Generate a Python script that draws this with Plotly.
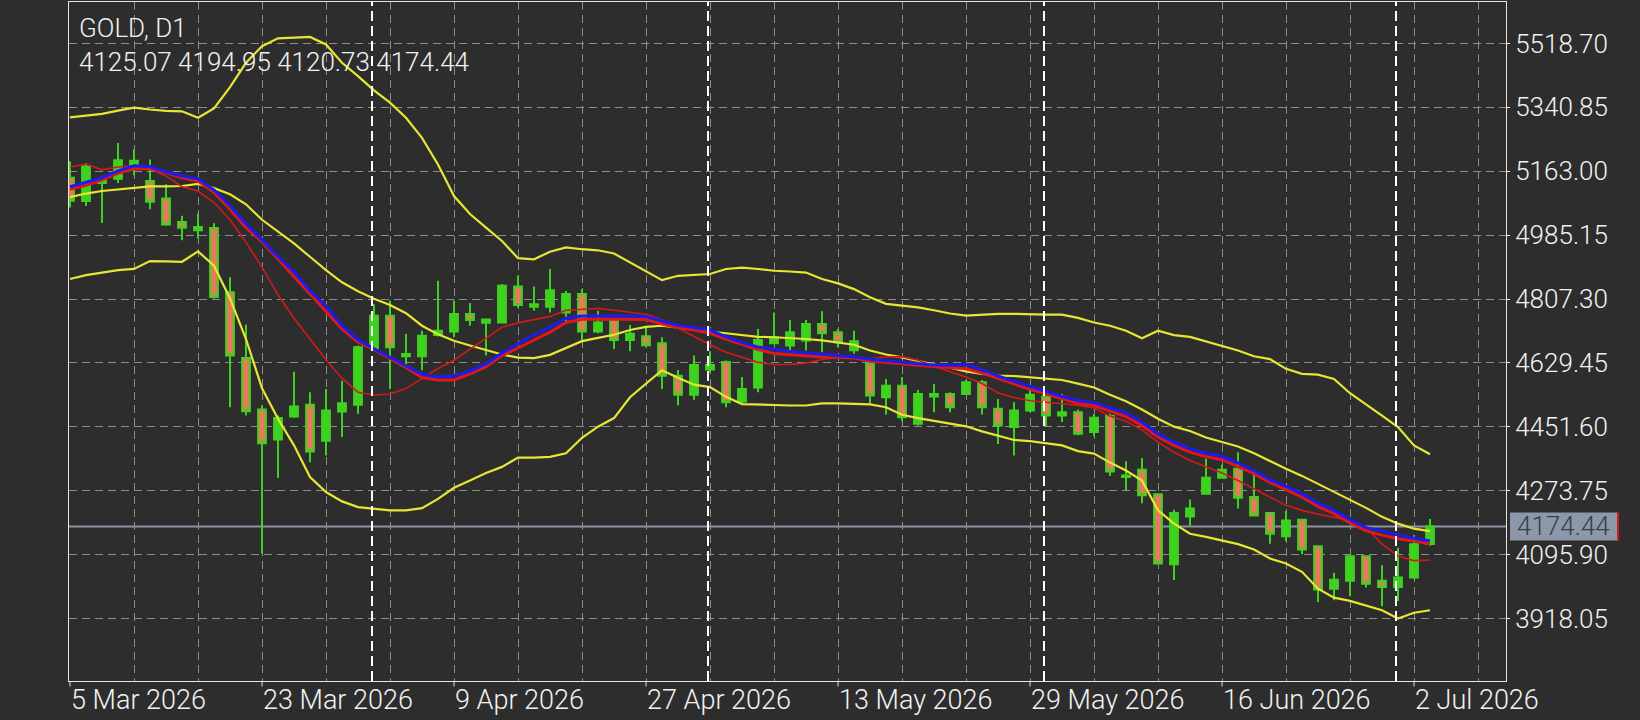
import plotly.graph_objects as go

# ---------------- data ----------------
dates = [
    "2026-03-05", "2026-03-06", "2026-03-09", "2026-03-10", "2026-03-11", "2026-03-12", "2026-03-13",
    "2026-03-16", "2026-03-17", "2026-03-18", "2026-03-19", "2026-03-20", "2026-03-23", "2026-03-24",
    "2026-03-25", "2026-03-26", "2026-03-27", "2026-03-30", "2026-03-31",
    "2026-04-01", "2026-04-02", "2026-04-06", "2026-04-07", "2026-04-08", "2026-04-09", "2026-04-10",
    "2026-04-13", "2026-04-14", "2026-04-15", "2026-04-16", "2026-04-17", "2026-04-20", "2026-04-21",
    "2026-04-22", "2026-04-23", "2026-04-24", "2026-04-27", "2026-04-28", "2026-04-29", "2026-04-30",
    "2026-05-01", "2026-05-04", "2026-05-05", "2026-05-06", "2026-05-07", "2026-05-08", "2026-05-11",
    "2026-05-12", "2026-05-13", "2026-05-14", "2026-05-15", "2026-05-18", "2026-05-19", "2026-05-20",
    "2026-05-21", "2026-05-22", "2026-05-25", "2026-05-26", "2026-05-27", "2026-05-28", "2026-05-29",
    "2026-06-01", "2026-06-02", "2026-06-03", "2026-06-04", "2026-06-05", "2026-06-08", "2026-06-09",
    "2026-06-10", "2026-06-11", "2026-06-12", "2026-06-15", "2026-06-16", "2026-06-17", "2026-06-18",
    "2026-06-19", "2026-06-22", "2026-06-23", "2026-06-24", "2026-06-25", "2026-06-26", "2026-06-29",
    "2026-06-30", "2026-07-01", "2026-07-02", "2026-07-03",
]

opens = [5145, 5080, 5130, 5142, 5180, 5136, 5087, 5022, 4999, 5005,
         4826, 4643, 4500, 4416, 4480, 4513, 4413, 4494, 4513, 4670,
         4761, 4648, 4648, 4707, 4717, 4766, 4741, 4742, 4842, 4786,
         4786, 4770, 4821, 4717, 4749, 4693, 4704, 4684, 4594, 4541,
         4611, 4632, 4522, 4561, 4684, 4678, 4692, 4738, 4715, 4665,
         4627, 4534, 4566, 4460, 4536, 4543, 4543, 4576, 4502, 4451,
         4497, 4536, 4483, 4492, 4437, 4482, 4312, 4332, 4264, 4069,
         4202, 4265, 4310, 4335, 4256, 4212, 4147, 4193, 4119, 4001,
         4023, 4091, 4023, 4006, 4032, 4125.07]
highs = [5191, 5185, 5150, 5242, 5224, 5196, 5127, 5039, 5046, 5018,
         4868, 4736, 4511, 4483, 4605, 4548, 4557, 4580, 4678, 4793,
         4803, 4710, 4719, 4858, 4803, 4796, 4752, 4849, 4872, 4842,
         4891, 4830, 4835, 4775, 4751, 4735, 4727, 4701, 4610, 4650,
         4662, 4636, 4590, 4724, 4770, 4749, 4749, 4773, 4724, 4719,
         4631, 4585, 4590, 4554, 4571, 4548, 4582, 4582, 4529, 4520,
         4560, 4539, 4543, 4499, 4488, 4488, 4356, 4365, 4265, 4221,
         4249, 4363, 4347, 4381, 4332, 4214, 4217, 4196, 4122, 4045,
         4094, 4093, 4066, 4115, 4150, 4194.95]
lows = [5062, 5066, 5019, 5130, 5152, 5057, 5011, 4971, 4976, 4809,
        4506, 4483, 4099, 4309, 4476, 4353, 4372, 4423, 4488, 4668,
        4557, 4622, 4609, 4703, 4701, 4733, 4650, 4740, 4784, 4775,
        4770, 4742, 4687, 4712, 4668, 4662, 4673, 4557, 4511, 4527,
        4603, 4506, 4515, 4548, 4682, 4664, 4664, 4659, 4673, 4655,
        4516, 4486, 4467, 4455, 4492, 4492, 4541, 4486, 4404, 4372,
        4492, 4451, 4465, 4428, 4425, 4315, 4275, 4239, 4069, 4025,
        4175, 4264, 4307, 4224, 4202, 4126, 4134, 4097, 3964, 3969,
        3980, 4004, 3952, 3967, 4028, 4120.73]
closes = [5081, 5176, 5140, 5194, 5192, 5078, 5015, 5006, 5008, 4813,
          4650, 4495, 4406, 4476, 4508, 4383, 4497, 4517, 4673, 4761,
          4673, 4654, 4705, 4719, 4766, 4749, 4750, 4844, 4791, 4793,
          4832, 4821, 4717, 4742, 4693, 4711, 4679, 4594, 4541, 4624,
          4624, 4520, 4557, 4693, 4701, 4715, 4738, 4712, 4687, 4690,
          4539, 4566, 4478, 4543, 4543, 4506, 4576, 4506, 4455, 4497,
          4541, 4483, 4492, 4432, 4477, 4327, 4316, 4261, 4071, 4212,
          4224, 4310, 4332, 4254, 4205, 4154, 4191, 4110, 3999, 4026,
          4091, 4015, 4006, 4032, 4125, 4174.44]

bb_upper = [5313, 5317, 5323, 5332, 5340, 5335, 5331, 5330, 5312, 5338,
            5397, 5465, 5511, 5533, 5534, 5537, 5516, 5465, 5428, 5388,
            5354, 5312, 5256, 5182, 5094, 5044, 5006, 4969, 4921, 4918,
            4939, 4951, 4946, 4943, 4934, 4909, 4884, 4860, 4872, 4875,
            4877, 4891, 4895, 4891, 4886, 4884, 4881, 4863, 4851, 4835,
            4812, 4794, 4790, 4784, 4776, 4767, 4761, 4764, 4766, 4766,
            4764, 4764, 4764, 4755, 4742, 4733, 4719, 4698, 4719, 4707,
            4702, 4689, 4677, 4664, 4648, 4640, 4613, 4599, 4597, 4585,
            4545, 4515, 4483, 4451, 4400, 4375]
bb_middle = [5091, 5101, 5108, 5113, 5118, 5121, 5121, 5122, 5128, 5116,
             5099, 5071, 5028, 4994, 4962, 4925, 4888, 4854, 4829, 4808,
             4791, 4768, 4733, 4709, 4691, 4678, 4666, 4653, 4644, 4643,
             4652, 4671, 4690, 4699, 4708, 4721, 4730, 4733, 4727, 4721,
             4717, 4712, 4706, 4702, 4701, 4699, 4696, 4692, 4687, 4680,
             4664, 4653, 4645, 4634, 4625, 4616, 4606, 4599, 4594, 4593,
             4589, 4586, 4582, 4572, 4561, 4541, 4523, 4500, 4474, 4452,
             4440, 4422, 4410, 4397, 4378, 4356, 4335, 4315, 4293, 4272,
             4249, 4226, 4201, 4182, 4168, 4161]
bb_lower = [4863, 4874, 4881, 4888, 4891, 4913, 4912, 4911, 4940, 4900,
            4809, 4696, 4559, 4474, 4400, 4312, 4270, 4244, 4228, 4224,
            4219, 4219, 4225, 4251, 4282, 4302, 4323, 4340, 4366, 4366,
            4368, 4378, 4421, 4452, 4476, 4534, 4572, 4609, 4588, 4569,
            4562, 4535, 4515, 4513, 4511, 4511, 4511, 4517, 4517, 4516,
            4514, 4506, 4485, 4476, 4469, 4462, 4453, 4439, 4426, 4415,
            4412, 4406, 4400, 4384, 4377, 4352, 4330, 4302, 4219, 4182,
            4154, 4145, 4136, 4125, 4110, 4085, 4071, 4048, 4001, 3976,
            3967, 3955, 3941, 3918, 3934, 3941]
ma_fast_red = [5175, 5183, 5167, 5175, 5178, 5170, 5150, 5120, 5108, 5076,
               5028, 4965, 4896, 4819, 4754, 4695, 4638, 4587, 4548, 4540,
               4543, 4558, 4587, 4614, 4637, 4668, 4699, 4729, 4741, 4749,
               4759, 4776, 4779, 4781, 4776, 4770, 4765, 4750, 4727, 4702,
               4680, 4659, 4645, 4631, 4625, 4625, 4629, 4639, 4645, 4647,
               4641, 4646, 4647, 4637, 4620, 4606, 4590, 4572, 4546, 4533,
               4524, 4520, 4517, 4512, 4504, 4482, 4467, 4443, 4409, 4381,
               4358, 4341, 4323, 4302, 4279, 4254, 4233, 4219, 4208, 4200,
               4191, 4171, 4126, 4092, 4079, 4081]
ma_slow_red = [5113, 5124, 5139, 5157, 5170, 5170, 5159, 5145, 5136, 5104,
               5057, 5006, 4967, 4919, 4870, 4821, 4775, 4724, 4687, 4667,
               4642, 4617, 4589, 4582, 4582, 4599, 4619, 4650, 4671, 4693,
               4715, 4742, 4751, 4752, 4752, 4752, 4750, 4738, 4727, 4721,
               4712, 4696, 4682, 4667, 4656, 4652, 4649, 4646, 4645, 4643,
               4635, 4630, 4627, 4623, 4619, 4616, 4613, 4601, 4585, 4571,
               4556, 4543, 4529, 4517, 4511, 4496, 4480, 4455, 4423, 4400,
               4381, 4369, 4360, 4341, 4321, 4297, 4277, 4256, 4230, 4210,
               4184, 4162, 4150, 4140, 4134, 4125]
ma_blue = [5120, 5133, 5145, 5164, 5178, 5176, 5161, 5150, 5142, 5111,
           5067, 5016, 4972, 4925, 4883, 4830, 4788, 4733, 4694, 4669,
           4646, 4623, 4598, 4590, 4593, 4607, 4627, 4657, 4683, 4708,
           4729, 4754, 4760, 4761, 4760, 4760, 4759, 4746, 4734, 4728,
           4721, 4702, 4686, 4674, 4667, 4661, 4658, 4654, 4652, 4646,
           4640, 4636, 4633, 4629, 4624, 4623, 4625, 4611, 4593, 4578,
           4564, 4551, 4536, 4525, 4519, 4504, 4490, 4465, 4432, 4409,
           4390, 4378, 4369, 4351, 4330, 4304, 4286, 4265, 4239, 4219,
           4193, 4171, 4162, 4150, 4143, 4134]

y_tick_values = [3918.05, 4095.90, 4273.75, 4451.60, 4629.45, 4807.30, 4985.15, 5163.00, 5340.85, 5518.70]
x_label_dates = ["2026-03-05", "2026-03-23", "2026-04-09", "2026-04-27",
                 "2026-05-13", "2026-05-29", "2026-06-16", "2026-07-02"]
x_label_texts = ["5 Mar 2026", "23 Mar 2026", "9 Apr 2026", "27 Apr 2026",
                 "13 May 2026", "29 May 2026", "16 Jun 2026", "2 Jul 2026"]
month_start_dates = ["2026-04-01", "2026-05-01", "2026-06-01", "2026-07-01"]
symbol_title = "GOLD, D1"

# ---------------- style ----------------
BG = "#2d2d2d"
GRID = "#8c8c8c"
FRAME = "#e6e6e6"
TEXT = "#f2f2f2"
GREEN = "#3fd11f"
SALMON = "#e87a5c"
YELLOW = "#e6e633"
RED_THIN = "#d11a1a"
RED = "#e01818"
BLUE = "#1c1cf0"
FONT = "Roboto"

bar_pos = list(range(len(dates)))
pos_of = {d: i for i, d in enumerate(dates)}

fig = go.Figure()
fig.add_trace(go.Candlestick(
    x=bar_pos, open=opens, high=highs, low=lows, close=closes,
    increasing=dict(line=dict(color=GREEN, width=2), fillcolor=GREEN),
    decreasing=dict(line=dict(color=GREEN, width=2), fillcolor=SALMON),
    whiskerwidth=0, hoverinfo="skip", showlegend=False,
))
for vals, color, width in [
    (bb_upper, YELLOW, 2.2), (bb_middle, YELLOW, 2.2), (bb_lower, YELLOW, 2.2),
    (ma_fast_red, RED_THIN, 1.6), (ma_slow_red, RED, 3), (ma_blue, BLUE, 3),
]:
    fig.add_trace(go.Scatter(x=bar_pos, y=vals, mode="lines",
                             line=dict(color=color, width=width),
                             hoverinfo="skip", showlegend=False))

last_price = closes[-1]
shapes = []
# current price line
shapes.append(dict(type="line", xref="paper", x0=0, x1=1, yref="y", y0=last_price, y1=last_price,
                   line=dict(color="#8a94a3", width=2), layer="below"))
# month separators
for d in month_start_dates:
    xp = pos_of[d] - 0.125
    shapes.append(dict(type="line", xref="x", x0=xp, x1=xp, yref="paper", y0=0, y1=1,
                       line=dict(color="#ffffff", width=2, dash="10px,5px"), layer="above"))
# small ticks under labelled dates
for d in x_label_dates:
    xp = pos_of[d]
    shapes.append(dict(type="line", xref="x", x0=xp, x1=xp, yref="paper", y0=0, y1=-0.008,
                       line=dict(color=FRAME, width=1)))
# price box on the axis
box_half = 14 * (5634.2 - 3744.0) / 679
shapes.append(dict(type="rect", xref="paper", x0=1.0028, x1=1.0780, yref="y",
                   y0=last_price - box_half, y1=last_price + box_half,
                   fillcolor="#8c98aa", line=dict(width=0)))
shapes.append(dict(type="line", xref="paper", x0=1.0780, x1=1.0780, yref="y",
                   y0=last_price - box_half, y1=last_price + box_half,
                   line=dict(color="#d01818", width=2)))

annotations = []
for d, t in zip(x_label_dates, x_label_texts):
    annotations.append(dict(x=pos_of[d], xref="x", y=0, yref="paper", yanchor="middle", yshift=-19,
                            xanchor="left", xshift=-1, text=t, showarrow=False,
                            font=dict(family=FONT, size=27, color=TEXT, weight=300)))
annotations.append(dict(x=0.0056, xref="paper", y=0.9624, yref="paper", xanchor="left", yanchor="middle",
                        text=symbol_title, showarrow=False,
                        font=dict(family=FONT, size=26, color=TEXT, weight=300)))
ohlc_text = " ".join(f"{v:.2f}" for v in (opens[-1], highs[-1], lows[-1], closes[-1]))
annotations.append(dict(x=0.0056, xref="paper", y=0.9116, yref="paper", xanchor="left", yanchor="middle",
                        text=ohlc_text, showarrow=False,
                        font=dict(family=FONT, size=26, color=TEXT, weight=300)))
annotations.append(dict(x=1.0062, xref="paper", y=last_price, yref="y", xanchor="left", yanchor="middle",
                        text=f"{last_price:.2f}", showarrow=False,
                        font=dict(family=FONT, size=26, color="#3a3e46", weight=300)))

fig.update_layout(
    width=1640, height=720,
    margin=dict(l=69, r=134, t=2, b=39),
    paper_bgcolor=BG, plot_bgcolor=BG,
    showlegend=False,
    shapes=shapes, annotations=annotations,
    xaxis=dict(
        range=[-0.0625, 89.75], rangeslider=dict(visible=False),
        tickmode="array", tickvals=list(range(0, 90, 4)), showticklabels=False, ticks="",
        showgrid=True, gridcolor=GRID, gridwidth=1, griddash="8px,5px",
        showline=True, linecolor=FRAME, linewidth=1, mirror=True, zeroline=False,
    ),
    yaxis=dict(
        side="right", range=[3744.0, 5634.2],
        tickmode="array", tickvals=y_tick_values, ticktext=[f"{v:.2f}" for v in y_tick_values],
        ticks="outside", ticklen=3, tickcolor=FRAME,
        tickfont=dict(family=FONT, size=26, color=TEXT, weight=300),
        showgrid=True, gridcolor=GRID, gridwidth=1, griddash="8px,5px",
        showline=True, linecolor=FRAME, linewidth=1, mirror=True, zeroline=False,
    ),
)

fig.write_html("out.html")
